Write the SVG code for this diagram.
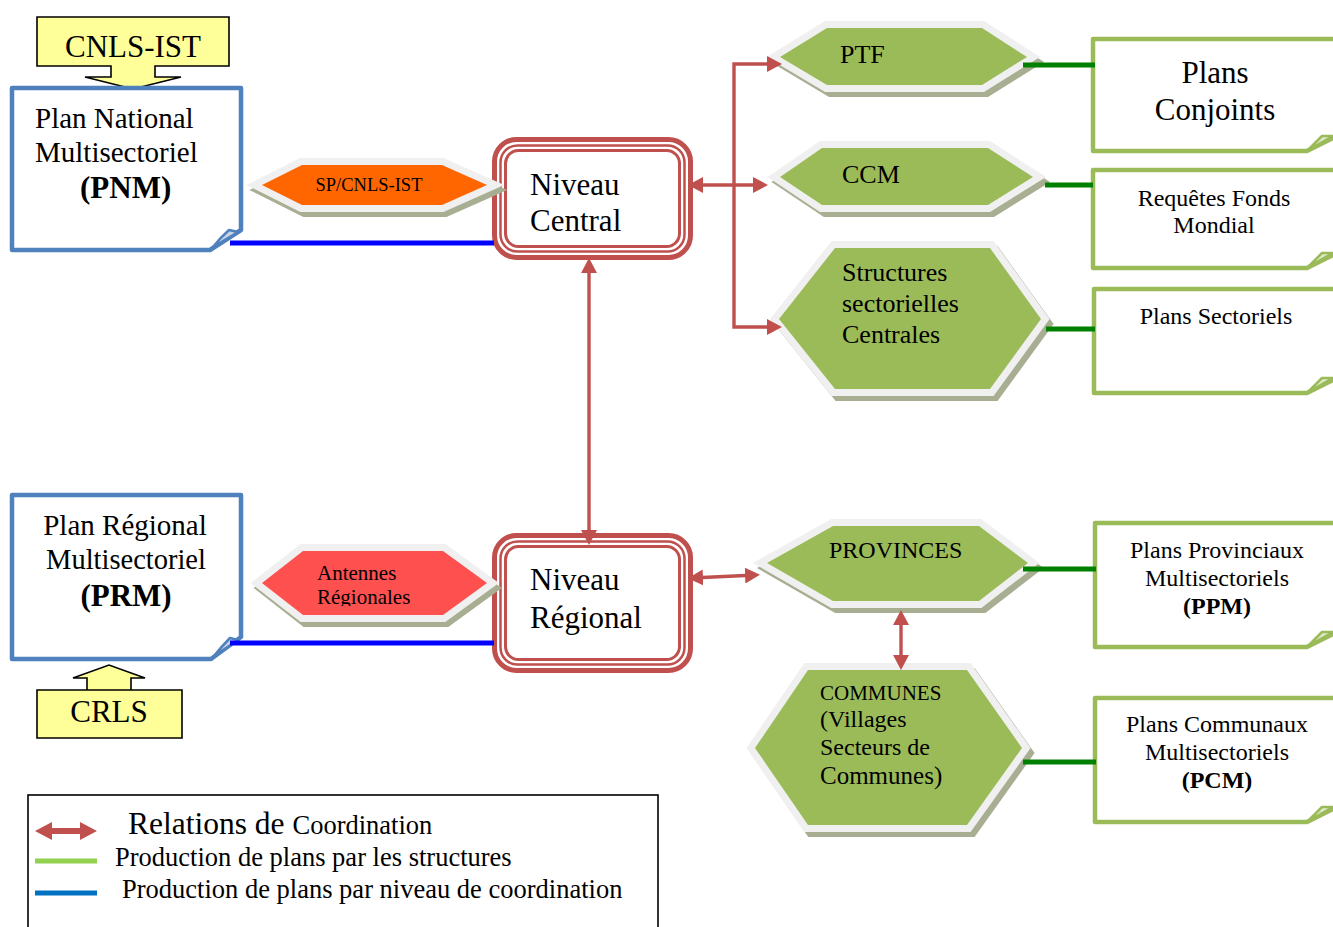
<svg xmlns="http://www.w3.org/2000/svg" width="1333" height="927" viewBox="0 0 1333 927">
  <style>
    text { font-family: "Liberation Serif", "Times New Roman", serif; fill: #000; }
    .hex-shadow { fill: #a8ae92; stroke: #a8ae92; stroke-width: 14; stroke-linejoin: miter; stroke-miterlimit: 10; }
    .hex-rim { fill: #f0f0f0; stroke: #f0f0f0; stroke-width: 14; stroke-linejoin: miter; stroke-miterlimit: 10; }
    .green { fill: #9bbb59; }
    .plan-blue { fill: #fff; stroke: #4f81bd; stroke-width: 4.5; stroke-linejoin: round; }
    .plan-green { fill: #fff; stroke: #9bbb59; stroke-width: 4.5; stroke-linejoin: round; }
    .fold-blue { fill: #c8d3e6; stroke: #4f81bd; stroke-width: 2.5; stroke-linejoin: round; }
    .fold-green { fill: #dfe9c9; stroke: #9bbb59; stroke-width: 2.5; stroke-linejoin: round; }
    .callout { fill: #ffff99; stroke: #000; stroke-width: 1.6; }
    .lvl { fill: #fff; stroke: #c0504d; }
    .coord { fill: none; stroke: #c0504d; stroke-width: 3.4; marker-start: url(#head); marker-end: url(#head); }
    .prod { stroke: #008000; stroke-width: 5; }
    .niv { stroke: #0000ff; stroke-width: 5; }
  </style>
  <defs>
    <marker id="head" viewBox="0 0 15 16" refX="11" refY="8" markerWidth="15" markerHeight="16" markerUnits="userSpaceOnUse" orient="auto-start-reverse">
      <path d="M0,0 L15,8 L0,16 Z" fill="#c0504d"/>
    </marker>
    <clipPath id="clipAntennes">
      <rect x="250" y="540" width="250" height="66"/>
    </clipPath>
  </defs>

  <rect width="1333" height="927" fill="#fff"/>

  <!-- coordination levels -->
  <g id="niveau-central">
    <rect class="lvl" x="494.5" y="139.5" width="196" height="118" rx="22" stroke-width="5"/>
    <rect class="lvl" x="500.5" y="145.5" width="184" height="106" rx="17" stroke-width="2.5"/>
    <rect class="lvl" x="505.5" y="150.5" width="174" height="96" rx="13" stroke-width="3"/>
    <text x="530" y="195" font-size="31">Niveau</text>
    <text x="530" y="231" font-size="31">Central</text>
  </g>
  <g id="niveau-regional">
    <rect class="lvl" x="494.5" y="535.5" width="196" height="135" rx="22" stroke-width="5"/>
    <rect class="lvl" x="500.5" y="541.5" width="184" height="123" rx="17" stroke-width="2.5"/>
    <rect class="lvl" x="505.5" y="546.5" width="174" height="113" rx="13" stroke-width="3"/>
    <text x="530" y="590" font-size="31">Niveau</text>
    <text x="530" y="628" font-size="31">Régional</text>
  </g>

  <!-- callouts -->
  <g id="cnls-ist">
    <path class="callout" d="M37,17 H229 V66 H155 V77 H181 L133,89 L85,77 H111 V66 H37 Z"/>
    <text x="133" y="57" font-size="31" text-anchor="middle">CNLS-IST</text>
  </g>
  <g id="crls">
    <path class="callout" d="M37,690 H182 V738 H37 Z M87,690 V678 H73 L109,665 L145,678 H131 V690"/>
    <text x="109" y="722" font-size="31" text-anchor="middle">CRLS</text>
  </g>

  <!-- multisectoral plans -->
  <g id="pnm">
    <path class="plan-blue" d="M12,88 H241 V230 L210,250 H12 Z"/>
    <path class="fold-blue" d="M213,247 Q221,237 229,230 L238,232 Z"/>
    <text x="35" y="128" font-size="29">Plan National</text>
    <text x="35" y="162" font-size="29">Multisectoriel</text>
    <text x="80" y="198" font-size="31" font-weight="bold">(PNM)</text>
  </g>
  <g id="prm">
    <path class="plan-blue" d="M12,495 H241 V637 L211,659 H12 Z"/>
    <path class="fold-blue" d="M214,656 Q222,646 230,638 L238,640 Z"/>
    <text x="125" y="535" font-size="29" text-anchor="middle">Plan Régional</text>
    <text x="126" y="569" font-size="28.5" text-anchor="middle">Multisectoriel</text>
    <text x="126" y="606" font-size="31" font-weight="bold" text-anchor="middle">(PRM)</text>
  </g>

  <!-- structure hexagons -->
  <g id="sp-cnls-ist">
    <polygon class="hex-shadow" transform="translate(3,5)" points="262,185 302,165 442,165 487,185 442,205 302,205"/>
    <polygon class="hex-rim" points="262,185 302,165 442,165 487,185 442,205 302,205"/>
    <polygon fill="#ff6600" points="262,185 302,165 442,165 487,185 442,205 302,205"/>
    <text x="369" y="191" font-size="18.5" text-anchor="middle">SP/CNLS-IST</text>
  </g>
  <g id="antennes">
    <polygon class="hex-shadow" transform="translate(3,5)" points="262,583 303,551 443,551 487,583 443,615 303,615"/>
    <polygon class="hex-rim" points="262,583 303,551 443,551 487,583 443,615 303,615"/>
    <polygon fill="#ff5050" points="262,583 303,551 443,551 487,583 443,615 303,615"/>
    <g clip-path="url(#clipAntennes)">
      <text x="317" y="580" font-size="21">Antennes</text>
      <text x="317" y="604" font-size="21">Régionales</text>
    </g>
  </g>
  <g id="ptf">
    <polygon class="hex-shadow" transform="translate(4,5)" points="780,57 827,28 982,28 1027,57 982,85 827,85"/>
    <polygon class="hex-rim" points="780,57 827,28 982,28 1027,57 982,85 827,85"/>
    <polygon class="green" points="780,57 827,28 982,28 1027,57 982,85 827,85"/>
    <text x="840" y="63" font-size="26">PTF</text>
  </g>
  <g id="ccm">
    <polygon class="hex-shadow" transform="translate(4,5)" points="780,177 822,148 988,148 1033,177 988,205 822,205"/>
    <polygon class="hex-rim" points="780,177 822,148 988,148 1033,177 988,205 822,205"/>
    <polygon class="green" points="780,177 822,148 988,148 1033,177 988,205 822,205"/>
    <text x="842" y="183" font-size="26">CCM</text>
  </g>
  <g id="structures">
    <polygon class="hex-shadow" transform="translate(4,5)" points="779,319 835,248 990,248 1041,319 990,389 835,389"/>
    <polygon class="hex-rim" points="779,319 835,248 990,248 1041,319 990,389 835,389"/>
    <polygon class="green" points="779,319 835,248 990,248 1041,319 990,389 835,389"/>
    <text x="842" y="281" font-size="26">Structures</text>
    <text x="842" y="312" font-size="26">sectorielles</text>
    <text x="842" y="343" font-size="26">Centrales</text>
  </g>
  <g id="provinces">
    <polygon class="hex-shadow" transform="translate(4,5)" points="767,563 833,526 979,526 1028,563 979,601 833,601"/>
    <polygon class="hex-rim" points="767,563 833,526 979,526 1028,563 979,601 833,601"/>
    <polygon class="green" points="767,563 833,526 979,526 1028,563 979,601 833,601"/>
    <text x="829" y="558" font-size="24">PROVINCES</text>
  </g>
  <g id="communes">
    <polygon class="hex-shadow" transform="translate(4,5)" points="755,748 808,670 967,670 1022,748 967,825 808,825"/>
    <polygon class="hex-rim" points="755,748 808,670 967,670 1022,748 967,825 808,825"/>
    <polygon class="green" points="755,748 808,670 967,670 1022,748 967,825 808,825"/>
    <text x="820" y="700" font-size="21">COMMUNES</text>
    <text x="820" y="727" font-size="24">(Villages</text>
    <text x="820" y="755" font-size="24">Secteurs de</text>
    <text x="820" y="784" font-size="25">Communes)</text>
  </g>

  <!-- plans produced by structures -->
  <g id="plans-conjoints">
    <path class="plan-green" d="M1093,39 H1345 V132 L1307,151 H1093 Z"/>
    <path class="fold-green" d="M1308,150 Q1316,142 1322,136 L1333,136 Z"/>
    <text x="1215" y="83" font-size="31" text-anchor="middle">Plans</text>
    <text x="1215" y="120" font-size="31" text-anchor="middle">Conjoints</text>
  </g>
  <g id="requetes-fonds-mondial">
    <path class="plan-green" d="M1093,170 H1345 V249 L1307,268 H1093 Z"/>
    <path class="fold-green" d="M1308,267 Q1316,259 1322,253 L1333,253 Z"/>
    <text x="1214" y="206" font-size="24" text-anchor="middle">Requêtes Fonds</text>
    <text x="1214" y="233" font-size="24" text-anchor="middle">Mondial</text>
  </g>
  <g id="plans-sectoriels">
    <path class="plan-green" d="M1094,289 H1345 V374 L1307,393 H1094 Z"/>
    <path class="fold-green" d="M1308,392 Q1316,384 1322,378 L1333,378 Z"/>
    <text x="1216" y="324" font-size="24" text-anchor="middle">Plans Sectoriels</text>
  </g>
  <g id="ppm">
    <path class="plan-green" d="M1095,523 H1345 V628 L1307,647 H1095 Z"/>
    <path class="fold-green" d="M1308,646 Q1316,638 1322,632 L1333,632 Z"/>
    <text x="1217" y="558" font-size="24" text-anchor="middle">Plans Provinciaux</text>
    <text x="1217" y="586" font-size="24" text-anchor="middle">Multisectoriels</text>
    <text x="1217" y="614" font-size="24" text-anchor="middle" font-weight="bold">(PPM)</text>
  </g>
  <g id="pcm">
    <path class="plan-green" d="M1095,698 H1345 V803 L1307,822 H1095 Z"/>
    <path class="fold-green" d="M1308,821 Q1316,813 1322,807 L1333,807 Z"/>
    <text x="1217" y="732" font-size="24" text-anchor="middle">Plans Communaux</text>
    <text x="1217" y="760" font-size="24" text-anchor="middle">Multisectoriels</text>
    <text x="1217" y="788" font-size="24" text-anchor="middle" font-weight="bold">(PCM)</text>
  </g>

  <!-- connectors -->
  <g id="connectors">
    <line class="niv" x1="230" y1="243" x2="494" y2="243"/>
    <line class="niv" x1="230" y1="643" x2="494" y2="643"/>
    <line class="prod" x1="1023" y1="65" x2="1095" y2="65"/>
    <line class="prod" x1="1045" y1="185" x2="1093" y2="185"/>
    <line class="prod" x1="1046" y1="329" x2="1095" y2="329"/>
    <line class="prod" x1="1023" y1="569" x2="1096" y2="569"/>
    <line class="prod" x1="1023" y1="762" x2="1096" y2="762"/>
    <path class="coord" d="M692,185 H764"/>
    <path class="coord" d="M778,64 H734 V327 H778"/>
    <path class="coord" d="M589,262 V541"/>
    <path class="coord" d="M692,578 L756,575"/>
    <path class="coord" d="M901,614 V666"/>
  </g>

  <!-- legend -->
  <g id="legend">
    <rect x="28" y="795" width="630" height="145" fill="none" stroke="#000" stroke-width="1.6"/>
    <polygon fill="#c0504d" points="35,831 52,822 52,828 80,828 80,822 97,831 80,840 80,834 52,834 52,840"/>
    <text x="128" y="834"><tspan font-size="31.5">Relations de </tspan><tspan font-size="26.5">Coordination</tspan></text>
    <line x1="35" y1="861" x2="97" y2="861" stroke="#92d050" stroke-width="5"/>
    <text x="115" y="866" font-size="26.5">Production de plans par les structures</text>
    <line x1="35" y1="893" x2="97" y2="893" stroke="#0070c0" stroke-width="5"/>
    <text x="122" y="898" font-size="26.5">Production de plans par niveau de coordination</text>
  </g>
</svg>
